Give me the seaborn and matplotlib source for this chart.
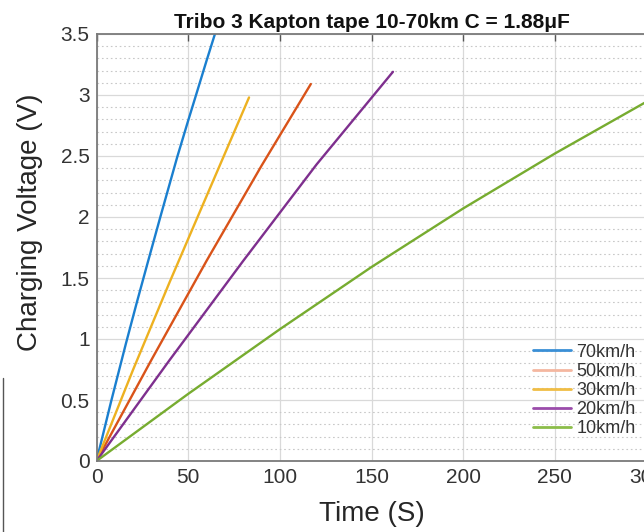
import numpy as np
import pandas as pd
import matplotlib
matplotlib.use("Agg")
import matplotlib.pyplot as plt
import seaborn as sns
from matplotlib.lines import Line2D
from matplotlib.ticker import MultipleLocator, FuncFormatter

# ---- data ----
labels = ["70km/h", "50km/h", "30km/h", "20km/h", "10km/h"]
t70 = [0, 8, 16, 22, 28, 35, 44, 50, 54.3, 60, 64.6, 68]
v70 = [0, 0.49, 0.96, 1.30, 1.63, 2.01, 2.49, 2.79, 3.00, 3.28, 3.50, 3.65]
t50 = [0, 30, 60, 90, 116.9]
v50 = [0, 0.83, 1.64, 2.42, 3.09]
t30 = [0, 20, 40, 60, 83.2]
v30 = [0, 0.75, 1.47, 2.17, 2.98]
t20 = [0, 40, 80, 120, 161.7]
v20 = [0, 0.83, 1.64, 2.43, 3.19]
t10 = [0, 50, 100, 150, 200, 250, 300]
v10 = [0, 0.55, 1.08, 1.59, 2.07, 2.52, 2.945]
xticks = [0, 50, 100, 150, 200, 250, 300]
yticks = [0, 0.5, 1, 1.5, 2, 2.5, 3, 3.5]
title = "Tribo 3 Kapton tape 10-70km C = 1.88\u03bcF"

colors = ["#1a7fcf", "#d95319", "#edb120", "#7e2f8e", "#77ac30"]
legend_colors = ["#3a8fd6", "#f4b7a0", "#f0bd45", "#9a4caa", "#8cbd4a"]

series = [(t70, v70), (t50, v50), (t30, v30), (t20, v20), (t10, v10)]
frames = []
for lab, (t, v) in zip(labels, series):
    frames.append(pd.DataFrame({"Time": t, "Voltage": v, "Speed": lab}))
df = pd.concat(frames, ignore_index=True)

sns.set_style("white")
plt.rcParams["font.family"] = ["Liberation Sans", "DejaVu Sans"]

fig = plt.figure(figsize=(6.44, 5.32), dpi=100)
W, H = 644, 532
x0, x1 = 96.5, 646.5
y0, y1 = 461, 34
ax = fig.add_axes([x0 / W, (H - y0) / H, (x1 - x0) / W, (y0 - y1) / H])

sns.lineplot(data=df, x="Time", y="Voltage", hue="Speed", hue_order=labels,
             palette=colors, estimator=None, sort=False, linewidth=1.7,
             legend=False, ax=ax)

ax.set_xlim(0, 300)
ax.set_ylim(0, 3.5)
ax.set_xticks(xticks)
ax.set_yticks(yticks)
fmt = FuncFormatter(lambda v, p: ("%g" % v))
ax.xaxis.set_major_formatter(fmt)
ax.yaxis.set_major_formatter(fmt)
ax.yaxis.set_minor_locator(MultipleLocator(0.1))

ax.grid(True, which="major", color="#d9d9d9", linewidth=0.9, linestyle="-")
ax.grid(True, which="minor", axis="y", color="#c8c8c8", linewidth=0.8,
        linestyle=(0, (1.5, 2.5)))
ax.set_axisbelow(True)

for s in ax.spines.values():
    s.set_color("#7a7a7a")
    s.set_linewidth(1.3)
ax.tick_params(axis="both", which="major", direction="in", length=5,
               width=1.0, color="#555555", labelsize=15, labelcolor="#333333",
               top=True, right=False, pad=5)
ax.tick_params(axis="y", which="minor", length=0)

ax.set_xlabel("Time (S)", fontsize=20, color="#262626", labelpad=10)
ax.set_ylabel("Charging Voltage (V)", fontsize=20, color="#262626")
ax.yaxis.set_label_coords(-0.097, 0.56)
ax.set_title(title, fontsize=15, fontweight="bold", color="#111111", pad=4)

handles = [Line2D([0], [0], color=c, linewidth=2.0) for c in legend_colors]
leg = ax.legend(handles, labels, loc="lower right", frameon=False,
                bbox_to_anchor=(1.0, 0.03), fontsize=13,
                handlelength=2.1, handletextpad=0.3, labelspacing=0.12,
                borderaxespad=0.2)
for txt in leg.get_texts():
    txt.set_color("#333333")

# fragment of neighbouring figure at left edge
fig.add_artist(Line2D([3 / W, 3 / W], [0, (H - 378) / H], color="#555555",
                      linewidth=1.0, transform=fig.transFigure))

fig.savefig("out.png", dpi=100)
